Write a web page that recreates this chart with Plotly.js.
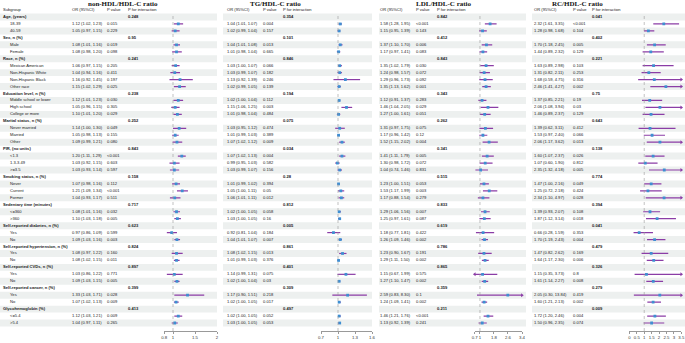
<!DOCTYPE html>
<html><head><meta charset="utf-8">
<script src="https://cdn.plot.ly/plotly-3.0.1.min.js"></script>
<style>html,body{margin:0;padding:0;background:#fff}#chart{width:685px;height:343px}</style>
</head><body><div id="chart"></div>
<script>
// ---------------- DATA ----------------
const groupNames = ["Age, (years)","Sex, n (%)","Race, n (%)","Education level, n (%)","Marital status, n (%)","PIR, (no units)","Smoking status, n (%)","Sedentary time (minutes)","Self-reported diabetes, n (%)","Self-reported hypertension, n (%)","Self-reported CVDs, n (%)","Self-reported cancer, n (%)","Glycohemoglobin (%)"];
const groupSizes = [2,2,4,3,3,3,3,2,2,2,2,2,2];
const subLabels = ["18-39","40-59","Male","Female","Mexican American","Non-Hispanic White","Non-Hispanic Black","Other race","Middle school or lower","High school","College or more","Never married","Married","Other","<1.3","1.3-3.49",">=3.5","Never","Current","Former","<=360",">360","Yes","No","Yes","No","Yes","No","Yes","No","<=5.4",">5.4"];

// non-HDL/HDL-C ratio
const nhOR = [1.12,1.05,1.08,1.08,1.06,1.04,1.16,1.15,1.12,1.05,1.10,1.14,1.05,1.09,1.20,1.03,1.03,1.07,1.21,1.04,1.08,1.10,0.97,1.09,1.08,1.08,1.03,1.09,1.33,1.07,1.12,1.04];
const nhLo = [1.02,0.97,1.01,0.98,0.97,0.94,0.92,1.02,1.01,0.96,1.01,1.00,0.98,0.99,1.11,0.92,0.93,0.98,1.09,0.93,1.01,1.03,0.86,1.03,0.97,1.02,0.86,1.03,1.03,1.02,1.03,0.97];
const nhHi = [1.23,1.15,1.16,1.20,1.15,1.16,1.45,1.29,1.23,1.15,1.20,1.30,1.13,1.21,1.29,1.15,1.14,1.16,1.34,1.17,1.16,1.18,1.09,1.16,1.22,1.15,1.22,1.15,1.71,1.13,1.21,1.11];
const nhP = ["0.015","0.229","0.019","0.098","0.205","0.411","0.197","0.025","0.030","0.305","0.029","0.049","0.155","0.080","<0.001","0.603","0.597","0.112","<0.001","0.511","0.032","0.005","0.599","0.003","0.160","0.011","0.771","0.005","0.028","0.009","0.009","0.265"];
const nhPint = ["0.248","0.95","0.241","0.238","0.252","0.843","0.158","0.717","0.623","0.824","0.897","0.399","0.413"];
const nhTicks = [0.8,1,1.5,2];

// TG/HDL-C ratio
const tgOR = [1.04,1.02,1.04,1.01,1.03,1.03,1.13,1.02,1.02,1.15,1.01,1.03,1.01,1.07,1.07,0.99,1.03,1.01,1.05,1.06,1.02,1.03,0.92,1.04,1.08,1.01,1.14,1.02,1.17,1.02,1.02,1.03];
const tgLo = [1.01,0.99,1.01,0.98,1.00,0.99,0.92,0.99,1.00,1.06,0.98,0.95,0.99,1.02,1.02,0.95,0.99,0.99,1.00,1.01,1.00,1.00,0.81,1.01,1.02,0.99,0.99,1.00,0.90,1.00,1.00,1.00];
const tgHi = [1.07,1.04,1.08,1.04,1.07,1.07,1.39,1.05,1.04,1.25,1.04,1.12,1.03,1.12,1.13,1.03,1.07,1.02,1.11,1.11,1.05,1.05,1.04,1.07,1.15,1.03,1.31,1.04,1.51,1.05,1.05,1.05];
const tgP = ["0.004","0.157","0.013","0.665","0.066","0.182","0.246","0.139","0.112","0.003","0.484","0.474","0.389","0.009","0.004","0.582","0.156","0.394","0.05","0.012","0.058","0.16","0.184","0.007","0.013","0.376","0.075","0.03","0.218","0.017","0.052","0.053"];
const tgPint = ["0.354","0.101","0.846","0.194","0.075","0.034","0.28","0.812","0.005","0.861","0.401","0.309","0.497"];
const tgTicks = [0.7,1,1.3,1.6];

// LDL/HDL-C ratio
const ldOR = [1.58,1.15,1.37,1.17,1.35,1.24,1.29,1.35,1.12,1.46,1.27,1.31,1.17,1.52,1.41,1.30,1.04,1.23,1.53,1.17,1.29,1.25,1.18,1.26,1.23,1.29,1.15,1.27,2.59,1.24,1.46,1.13];
const ldLo = [1.28,0.95,1.10,0.97,1.02,0.98,0.96,1.13,0.91,1.04,1.00,0.97,0.96,1.15,1.11,0.98,0.74,1.00,1.17,0.88,1.06,0.97,0.77,1.09,0.90,1.11,0.67,1.10,0.83,1.09,1.21,0.92];
const ldHi = [1.95,1.39,1.70,1.41,1.79,1.57,1.73,1.62,1.37,2.05,1.61,1.75,1.42,2.02,1.79,1.72,1.46,1.51,1.99,1.54,1.56,1.61,1.81,1.46,1.67,1.50,1.99,1.47,8.30,1.41,1.76,1.39];
const ldP = ["<0.001","0.143","0.006","0.083","0.030","0.072","0.092","0.001","0.283","0.029","0.051","0.075","0.12","0.004","0.005","0.072","0.831","0.053","0.003","0.279","0.007","0.087","0.422","0.002","0.191","0.002","0.575","0.002","0.1","0.002","<0.001","0.241"];
const ldPint = ["0.842","0.412","0.843","0.343","0.262","0.341","0.515","0.833","0.619","0.786","0.865","0.359","0.211"];
const ldTicks = [0.7,1,1.8,2.6,3.4];

// RC/HDL-C ratio
const rcOR = [2.32,1.28,1.70,1.44,1.63,1.31,1.68,2.46,1.37,2.06,1.46,1.39,1.53,2.06,1.60,1.07,2.35,1.47,1.25,2.34,1.39,1.87,0.66,1.70,1.47,1.64,1.15,1.61,2.05,1.60,1.72,1.50];
const rcLo = [1.61,0.98,1.18,0.89,0.89,0.82,0.59,1.41,0.85,1.08,0.89,0.62,0.97,1.17,1.07,0.60,1.32,1.00,0.72,1.10,0.93,1.12,0.28,1.19,0.82,1.17,0.35,1.14,0.30,1.21,1.20,0.96];
const rcHi = [3.35,1.68,2.45,2.32,2.98,2.11,4.75,4.27,2.21,3.94,2.37,3.11,2.40,3.62,2.37,1.90,4.18,2.16,2.18,4.97,2.07,3.14,1.59,2.43,2.62,2.30,3.73,2.27,13.84,2.13,2.46,2.35];
const rcP = ["<0.001","0.104","0.005","0.129","0.103","0.253","0.316","0.002","0.19","0.03","0.129","0.412","0.066","0.013","0.026","0.812","0.005","0.049","0.424","0.028","0.108","0.018","0.353","0.004","0.169","0.006","0.8","0.008","0.419","0.002","0.004","0.074"];
const rcPint = ["0.041","0.402","0.221","0.75","0.643","0.138","0.774","0.394","0.041","0.479","0.326","0.279","0.009"];
const rcTicks = [0,0.5,1,1.5,2,2.5,3,3.5];

const panelTitles = ["non-HDL/HDL-C ratio","TG/HDL-C ratio","LDL/HDL-C ratio","RC/HDL-C ratio"];

// ---------------- LAYOUT GEOMETRY (pixels) ----------------
const W = 685, H = 343;
const ROW0 = 17, ROWH = 6.955;          // y pixel of first row, row pitch
const AXIS_Y = 331;                     // pixel y of the x-axis lines
const panels = [
  {title:panelTitles[0], OR:nhOR, lo:nhLo, hi:nhHi, p:nhP, pint:nhPint, ticks:nhTicks, range:[0.8,2],  dom:[164.2,217.0], stripe:[0,217],   cOR:72,  cP:107, cPI:128, tX:123},
  {title:panelTitles[1], OR:tgOR, lo:tgLo, hi:tgHi, p:tgP, pint:tgPint, ticks:tgTicks, range:[0.7,1.6],dom:[321.0,372.0], stripe:[223,372], cOR:227, cP:263, cPI:283, tX:275},
  {title:panelTitles[2], OR:ldOR, lo:ldLo, hi:ldHi, p:ldP, pint:ldPint, ticks:ldTicks, range:[0.7,3.4],dom:[474.7,522.0], stripe:[379,526], cOR:380, cP:416, cPI:437, tX:444},
  {title:panelTitles[3], OR:rcOR, lo:rcLo, hi:rcHi, p:rcP, pint:rcPint, ticks:rcTicks, range:[0,3.5],  dom:[629.4,681.3], stripe:[532,685], cOR:534, cP:573, cPI:592, tX:577}
];
const TXT = 'Arial, "Liberation Sans", sans-serif';
const SERIF = '"Liberation Serif", "Times New Roman", serif';
const FS = 4.1;
const PURPLE = '#8b3da6', BLUE = '#3f8fd2', STRIPE = '#edf0ef';

// ---------------- BUILD ROWS ----------------
const rows = [];
let si = 0;
groupNames.forEach((g, gi) => {
  rows.push({label:g, head:true, gi:gi});
  for (let k = 0; k < groupSizes[gi]; k++) rows.push({label:subLabels[si], head:false, si:si++});
});
const yTop = -ROW0 / ROWH, yBot = (H - ROW0) / ROWH;
const py = p => 1 - p / H;      // pixel y -> paper
const px = p => p / W;          // pixel x -> paper

const traces = [];
const shapes = [];
const annotations = [];
const layout = {
  width: W, height: H, margin:{l:0,r:0,t:0,b:0},
  paper_bgcolor:'#fff', plot_bgcolor:'rgba(0,0,0,0)', showlegend:false,
  yaxis:{range:[yBot, yTop], domain:[0,1], visible:false, fixedrange:true, anchor:'free', position:0},
  xaxis5:{range:[0, W], domain:[0,1], visible:false, fixedrange:true, anchor:'y'},
  shapes: shapes, annotations: annotations
};

// stripes
rows.forEach((r, i) => {
  if (i % 2 !== 0) return;
  panels.forEach(P => {
    shapes.push({type:'rect', layer:'below', xref:'paper', yref:'y', x0:px(P.stripe[0]), x1:px(P.stripe[1]),
      y0:i-0.5, y1:i+0.5, fillcolor:STRIPE, line:{width:0}});
  });
});

// text helper
function textTrace(xpix, ys, texts, opts) {
  traces.push(Object.assign({type:'scatter', mode:'text', xaxis:'x5', yaxis:'y',
    x: ys.map(() => xpix), y: ys, text: texts, textposition:'middle right',
    textfont:{family:TXT, size:FS, color:'#222'}, hoverinfo:'skip', cliponaxis:false}, opts || {}));
}

// Subgroup column
const headIdx = rows.map((r,i)=>r.head?i:-1).filter(i=>i>=0);
const subIdx = rows.map((r,i)=>!r.head?i:-1).filter(i=>i>=0);
textTrace(3, [-1], ['Subgroup']);
textTrace(3, headIdx, headIdx.map(i => '<b>' + rows[i].label + '</b>'));
textTrace(10, subIdx, subIdx.map(i => rows[i].label));

panels.forEach((P, k) => {
  const ax = 'x' + (k + 1);
  const axKey = 'xaxis' + (k === 0 ? '' : (k + 1));
  // column headers
  textTrace(P.cOR, [-1], ['OR (95%CI)']);
  textTrace(P.cP, [-1], ['P value']);
  textTrace(P.cPI, [-1], ['P for interaction']);
  // table values
  textTrace(P.cOR, subIdx, subIdx.map(i => { const s = rows[i].si; return P.OR[s].toFixed(2) + ' (' + P.lo[s].toFixed(2) + ', ' + P.hi[s].toFixed(2) + ')'; }));
  textTrace(P.cP, subIdx, subIdx.map(i => P.p[rows[i].si]));
  textTrace(P.cPI, headIdx, headIdx.map(i => '<b>' + P.pint[rows[i].gi] + '</b>'));
  // title
  annotations.push({xref:'paper', yref:'paper', x:px(P.tX), y:py(4.2), xanchor:'center', yanchor:'middle',
    text:'<b>' + P.title + '</b>', showarrow:false, font:{family:SERIF, size:7, color:'#111'}, borderpad:0, borderwidth:0});
  // axis
  layout[axKey] = {range:P.range, domain:[px(P.dom[0]), px(P.dom[1])], anchor:'free', position:py(AXIS_Y),
    showline:true, linecolor:'#555', linewidth:0.6, ticks:'outside', ticklen:2, tickwidth:0.6, tickcolor:'#555',
    tickvals:P.ticks, ticktext:P.ticks.map(String), tickangle:0, tickfont:{family:TXT, size:4.3, color:'#333'},
    showgrid:false, zeroline:false, fixedrange:true};
  // reference line at 1
  shapes.push({type:'line', xref:ax, yref:'paper', x0:1, x1:1, y0:py(AXIS_Y), y1:py(14), line:{color:'#999', width:0.6, dash:'dot'}});
  // CI lines
  const lx = [], ly = [];
  const arR = [], arL = [];
  subIdx.forEach(i => {
    const s = rows[i].si;
    lx.push(P.lo[s], P.hi[s], null); ly.push(i, i, null);
    if (P.hi[s] > P.range[1]) arR.push(i);
    if (P.lo[s] < P.range[0]) arL.push(i);
  });
  traces.push({type:'scatter', mode:'lines', xaxis:ax, yaxis:'y', x:lx, y:ly, line:{color:PURPLE, width:1.2}, hoverinfo:'skip'});
  if (arR.length) traces.push({type:'scatter', mode:'markers', xaxis:ax, yaxis:'y', x:arR.map(()=>P.range[1]), y:arR,
      marker:{symbol:'triangle-right', size:3.5, color:PURPLE}, cliponaxis:false, hoverinfo:'skip'});
  if (arL.length) traces.push({type:'scatter', mode:'markers', xaxis:ax, yaxis:'y', x:arL.map(()=>P.range[0]), y:arL,
      marker:{symbol:'triangle-left', size:3.5, color:PURPLE}, cliponaxis:false, hoverinfo:'skip'});
  // point estimates
  traces.push({type:'scatter', mode:'markers', xaxis:ax, yaxis:'y', x:subIdx.map(i=>P.OR[rows[i].si]), y:subIdx,
    marker:{symbol:'square', size:2.8, color:BLUE}, hoverinfo:'skip'});
});

Plotly.newPlot('chart', traces, layout, {staticPlot:true, displayModeBar:false});
</script>
</body></html>
